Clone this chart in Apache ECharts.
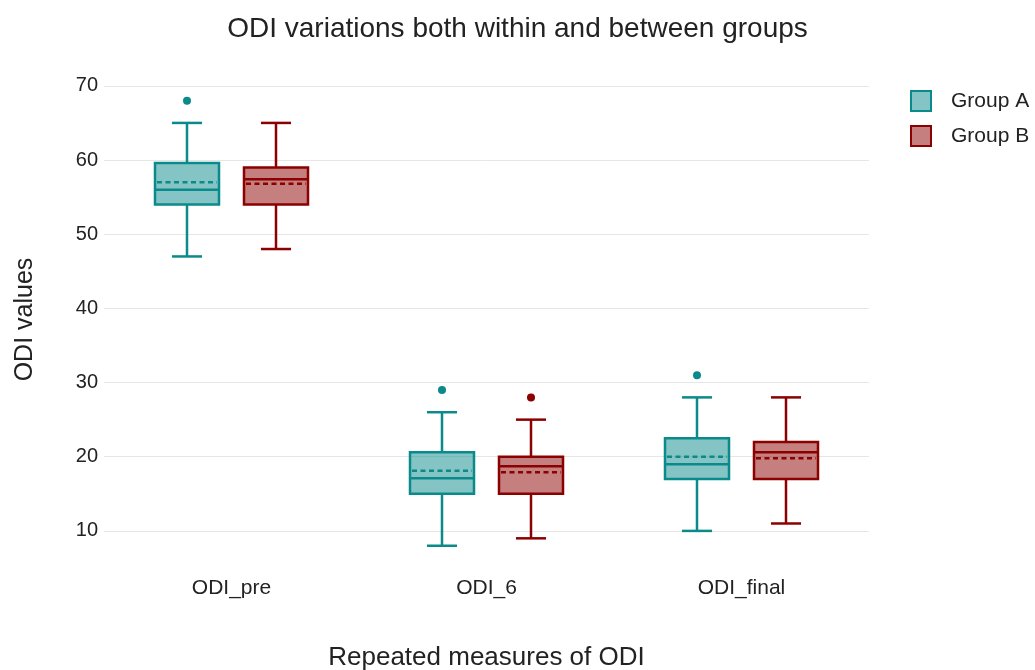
<!DOCTYPE html>
<html>
<head>
<meta charset="utf-8">
<script src="https://cdn.jsdelivr.net/npm/echarts@6/dist/echarts.min.js"></script>
<style>html,body{margin:0;padding:0;background:#fff;}#chart{width:1035px;height:670px;}</style>
</head>
<body>
<div id="chart"></div>
<script>
const categories = ['ODI_pre', 'ODI_6', 'ODI_final'];
const groupNames = ['Group A', 'Group B'];
// [lowerWhisker, q1, median, q3, upperWhisker, mean] per category
const groupA = [
  [47, 54, 56, 59.6, 65, 57.0],
  [8, 15, 17.1, 20.6, 26, 18.1],
  [10, 17, 19, 22.5, 28, 20.0]
];
const groupB = [
  [48, 54, 57.4, 59, 65, 56.8],
  [9, 15, 18.7, 20, 25, 17.9],
  [11, 17, 20.6, 22, 28, 19.8]
];
// outliers: [categoryIndex, value]
const outliersA = [[0, 68], [1, 29], [2, 31]];
const outliersB = [[1, 28]];
const yTicks = [10, 20, 30, 40, 50, 60, 70];

const colA = '#0a8a8a', fillA = 'rgba(10,138,138,0.5)';
const colB = '#8b0000', fillB = 'rgba(139,0,0,0.5)';
const OFF = 0.1745, BOXW = 0.251, CAPW = 0.118;

function makeBox(color, fill, dir) {
  return function (params, api) {
    const cat = api.value(0);
    const band = api.size([1, 0])[0];
    const cx = api.coord([cat, api.value(3)])[0] + dir * band * OFF;
    const bw = band * BOXW, cw = band * CAPW;
    const y = v => api.coord([cat, v])[1];
    const lo = y(api.value(1)), q1 = y(api.value(2)), md = y(api.value(3)),
          q3 = y(api.value(4)), hi = y(api.value(5)), mn = y(api.value(6));
    const ls = { stroke: color, lineWidth: 2.5, fill: null };
    return {
      type: 'group',
      children: [
        { type: 'line', shape: { x1: cx, y1: hi, x2: cx, y2: q3 }, style: ls },
        { type: 'line', shape: { x1: cx, y1: q1, x2: cx, y2: lo }, style: ls },
        { type: 'line', shape: { x1: cx - cw / 2, y1: hi, x2: cx + cw / 2, y2: hi }, style: ls },
        { type: 'line', shape: { x1: cx - cw / 2, y1: lo, x2: cx + cw / 2, y2: lo }, style: ls },
        { type: 'rect', shape: { x: cx - bw / 2, y: q3, width: bw, height: q1 - q3 },
          style: { fill: fill, stroke: color, lineWidth: 2.5 } },
        { type: 'line', shape: { x1: cx - bw / 2, y1: md, x2: cx + bw / 2, y2: md }, style: ls },
        { type: 'line', shape: { x1: cx - bw / 2 + 2, y1: mn, x2: cx + bw / 2 - 2, y2: mn },
          style: { stroke: color, lineWidth: 2.5, lineDash: [5, 3.5] } }
      ]
    };
  };
}
function makeDot(color, dir) {
  return function (params, api) {
    const cat = api.value(0);
    const band = api.size([1, 0])[0];
    const p = api.coord([cat, api.value(1)]);
    return { type: 'circle', shape: { cx: p[0] + dir * band * OFF, cy: p[1], r: 4 }, style: { fill: color } };
  };
}

const chart = echarts.init(document.getElementById('chart'));
const font = 'Liberation Sans, Arial, sans-serif';
chart.setOption({
  animation: false,
  backgroundColor: '#fff',
  textStyle: { fontFamily: font },
  title: {
    text: 'ODI variations both within and between groups',
    left: 'center', top: 15, padding: 0,
    textStyle: { fontFamily: font, fontSize: 28, fontWeight: 'normal', color: '#222' }
  },
  legend: {
    orient: 'vertical', left: 910, top: 90, padding: 0, itemWidth: 20, itemHeight: 20, itemGap: 13,
    icon: 'rect',
    textStyle: { fontFamily: font, fontSize: 21, lineHeight: 21, color: '#222', padding: [0, 0, 0, 15] },
    data: [
      { name: groupNames[0], itemStyle: { color: fillA, borderColor: colA, borderWidth: 2 } },
      { name: groupNames[1], itemStyle: { color: fillB, borderColor: colB, borderWidth: 2 } }
    ]
  },
  grid: { left: 104, right: 166, top: 71, bottom: 102, containLabel: false, outerBoundsMode: 'none' },
  xAxis: {
    type: 'category', data: categories, boundaryGap: true,
    name: 'Repeated measures of ODI', nameLocation: 'middle', nameGap: 77,
    nameTextStyle: { fontFamily: font, fontSize: 26, color: '#222' },
    axisLine: { show: false }, axisTick: { show: false },
    axisLabel: { margin: 10, fontSize: 21, color: '#222', fontFamily: font },
    splitLine: { show: false }
  },
  yAxis: {
    type: 'value', min: 5, max: 72, splitNumber: 7,
    name: 'ODI values', nameLocation: 'middle', nameGap: 66,
    nameTextStyle: { fontFamily: font, fontSize: 25, color: '#222' },
    axisLine: { show: false }, axisTick: { show: false },
    axisLabel: {
      margin: 6, fontSize: 20, color: '#222', fontFamily: font,
      showMinLabel: false, showMaxLabel: false,
      formatter: v => (yTicks.indexOf(v) >= 0 ? String(v) : '')
    },
    splitLine: { show: true, showMinLine: false, showMaxLine: false, lineStyle: { color: '#e6e6e6', width: 1 } }
  },
  series: [
    { name: groupNames[0], type: 'custom', renderItem: makeBox(colA, fillA, -1), itemStyle: { color: fillA, borderColor: colA },
      data: groupA.map((d, i) => [i].concat(d)), encode: { x: 0, y: [1, 2, 3, 4, 5, 6] }, z: 3 },
    { name: groupNames[1], type: 'custom', renderItem: makeBox(colB, fillB, 1), itemStyle: { color: fillB, borderColor: colB },
      data: groupB.map((d, i) => [i].concat(d)), encode: { x: 0, y: [1, 2, 3, 4, 5, 6] }, z: 3 },
    { name: groupNames[0], type: 'custom', renderItem: makeDot(colA, -1), data: outliersA, encode: { x: 0, y: 1 }, z: 4 },
    { name: groupNames[1], type: 'custom', renderItem: makeDot(colB, 1), data: outliersB, encode: { x: 0, y: 1 }, z: 4 }
  ]
});
</script>
</body>
</html>
